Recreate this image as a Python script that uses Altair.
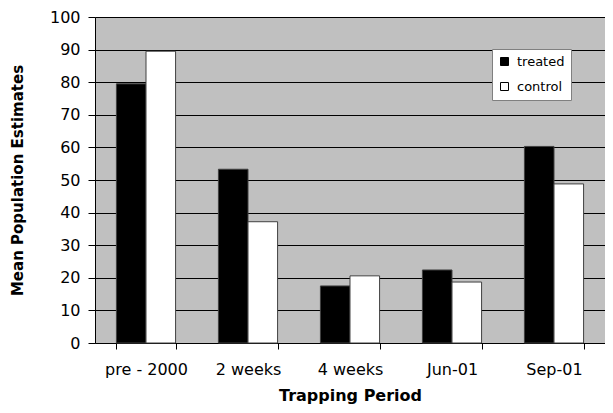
import altair as alt
import pandas as pd

periods = ["pre - 2000", "2 weeks", "4 weeks", "Jun-01", "Sep-01"]
series = ["treated", "control"]
treated = [79.5, 53.3, 17.5, 22.4, 60.3]
control = [89.5, 37.2, 20.6, 18.7, 48.8]
y_ticks = [0, 10, 20, 30, 40, 50, 60, 70, 80, 90, 100]

rows = []
for p, t, c in zip(periods, treated, control):
    rows.append({"period": p, "series": "treated", "value": t})
    rows.append({"period": p, "series": "control", "value": c})
df = pd.DataFrame(rows)

FONT = "DejaVu Sans"

chart = alt.Chart(df).mark_bar(stroke="#404040", strokeWidth=1).encode(
    x=alt.X(
        "period:N",
        sort=periods,
        title="Trapping Period",
        scale=alt.Scale(paddingInner=0.42, paddingOuter=0.21),
        axis=alt.Axis(
            labelAngle=0,
            tickBand="extent",
            tickSize=6,
            tickColor="black",
            domainColor="black",
            labelFont=FONT,
            labelFontSize=16,
            labelColor="black",
            labelPadding=12,
            titleFont=FONT,
            titleFontSize=16,
            titleFontWeight="bold",
            titleColor="black",
            titlePadding=10,
            grid=False,
        ),
    ),
    xOffset=alt.XOffset("series:N", sort=series),
    y=alt.Y(
        "value:Q",
        title="Mean Population Estimates",
        scale=alt.Scale(domain=[0, 100], nice=False),
        axis=alt.Axis(
            values=y_ticks,
            tickSize=7,
            tickColor="black",
            domainColor="black",
            gridColor="black",
            gridWidth=1,
            gridOpacity=1,
            labelFont=FONT,
            labelFontSize=16,
            labelColor="black",
            labelPadding=8,
            titleFont=FONT,
            titleFontSize=15,
            titleFontWeight="bold",
            titleColor="black",
            titleX=-78,
            titleY=163,
            titleAngle=-90,
            titleAlign="center",
            titleBaseline="middle",
        ),
    ),
    color=alt.Color(
        "series:N",
        sort=series,
        scale=alt.Scale(domain=series, range=["#000000", "#ffffff"]),
        legend=alt.Legend(
            title=None,
            orient="none",
            legendX=397,
            legendY=32,
            fillColor="white",
            strokeColor="#808080",
            padding=6,
            symbolType="square",
            symbolSize=64,
            symbolStrokeColor="black",
            symbolStrokeWidth=1,
            labelFont=FONT,
            labelFontSize=13,
            labelColor="black",
            labelOffset=6,
            rowPadding=11,
        ),
    ),
).properties(
    width=510,
    height=326,
    background="white",
    padding={"left": 87, "top": 9, "right": 0, "bottom": 62},
    autosize=alt.AutoSizeParams(type="none"),
).configure_view(
    fill="#c0c0c0",
    stroke=None,
)

chart.save("out.html", embed_options={"renderer": "svg", "actions": False})
